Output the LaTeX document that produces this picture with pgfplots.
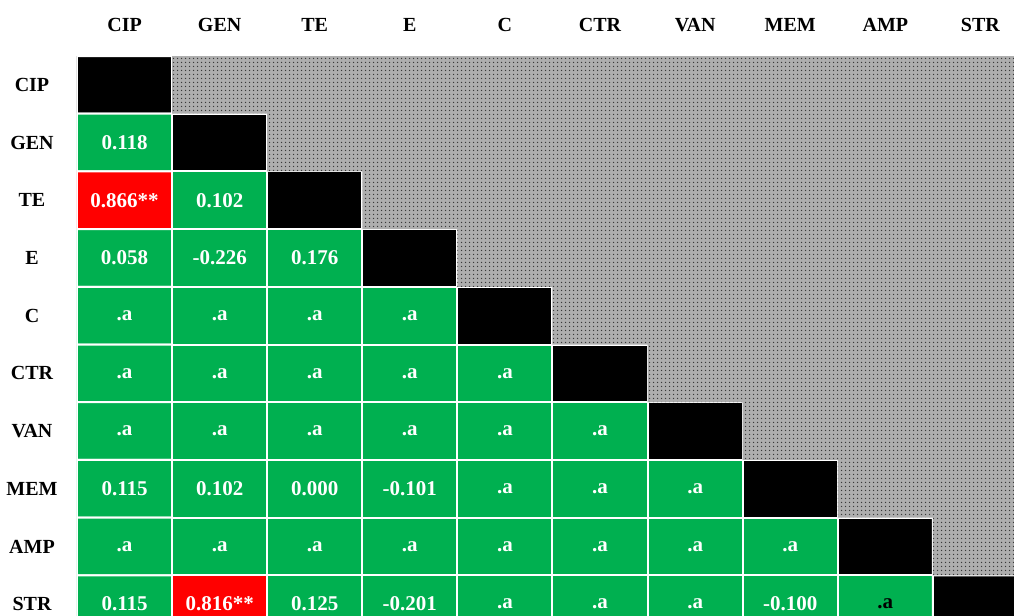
\documentclass[border=0pt]{standalone}
\usepackage{pgfplots}
\pgfplotsset{compat=1.18}
\usetikzlibrary{patterns.meta}
\usepackage{fontspec}
\setmainfont{Liberation Serif}
\definecolor{cgreen}{HTML}{00B050}
\definecolor{cred}{HTML}{FF0000}
\definecolor{bggray}{HTML}{AEAEAE}
\definecolor{dotgray}{HTML}{3A3A3A}
\tikzdeclarepattern{name=fdots, type=uncolored,
  bounding box={(0,0) and (2pt,2pt)}, tile size={(2pt,2pt)},
  code={\fill (1pt,1pt) circle (0.45pt);}}
\begin{document}
\begin{tikzpicture}
\useasboundingbox (0,0) rectangle (507pt,308pt);
\clip (0,0) rectangle (507pt,308pt);
\begin{axis}[
  at={(38.5pt,280pt)}, anchor=north west,
  width=475.5pt, height=288.5pt, scale only axis,
  xmin=-0.5, xmax=9.5, ymin=-0.5, ymax=9.5, y dir=reverse,
  xtick={0,...,9}, ytick={0,...,9},
  xticklabels={CIP,GEN,TE,E,C,CTR,VAN,MEM,AMP,STR},
  yticklabels={CIP,GEN,TE,E,C,CTR,VAN,MEM,AMP,STR},
  xticklabel pos=upper,
  axis line style={draw=none}, major tick length=0pt,
  ticklabel style={font=\fontsize{10}{12}\selectfont\bfseries},
  xticklabel style={anchor=center, yshift=15.5pt},
  yticklabel style={anchor=center, xshift=-22.5pt},
  colormap={cm}{color=(black) color=(cgreen) color=(cred)},
  colormap access=direct,
]
\addplot[matrix plot*, mesh/cols=10, point meta=explicit, draw=white, line width=1pt]
table[meta=c, row sep=\\] {
x y c\\
0 0 0\\ 1 0 0\\ 2 0 0\\ 3 0 0\\ 4 0 0\\ 5 0 0\\ 6 0 0\\ 7 0 0\\ 8 0 0\\ 9 0 0\\
0 1 1\\ 1 1 0\\ 2 1 0\\ 3 1 0\\ 4 1 0\\ 5 1 0\\ 6 1 0\\ 7 1 0\\ 8 1 0\\ 9 1 0\\
0 2 2\\ 1 2 1\\ 2 2 0\\ 3 2 0\\ 4 2 0\\ 5 2 0\\ 6 2 0\\ 7 2 0\\ 8 2 0\\ 9 2 0\\
0 3 1\\ 1 3 1\\ 2 3 1\\ 3 3 0\\ 4 3 0\\ 5 3 0\\ 6 3 0\\ 7 3 0\\ 8 3 0\\ 9 3 0\\
0 4 1\\ 1 4 1\\ 2 4 1\\ 3 4 1\\ 4 4 0\\ 5 4 0\\ 6 4 0\\ 7 4 0\\ 8 4 0\\ 9 4 0\\
0 5 1\\ 1 5 1\\ 2 5 1\\ 3 5 1\\ 4 5 1\\ 5 5 0\\ 6 5 0\\ 7 5 0\\ 8 5 0\\ 9 5 0\\
0 6 1\\ 1 6 1\\ 2 6 1\\ 3 6 1\\ 4 6 1\\ 5 6 1\\ 6 6 0\\ 7 6 0\\ 8 6 0\\ 9 6 0\\
0 7 1\\ 1 7 1\\ 2 7 1\\ 3 7 1\\ 4 7 1\\ 5 7 1\\ 6 7 1\\ 7 7 0\\ 8 7 0\\ 9 7 0\\
0 8 1\\ 1 8 1\\ 2 8 1\\ 3 8 1\\ 4 8 1\\ 5 8 1\\ 6 8 1\\ 7 8 1\\ 8 8 0\\ 9 8 0\\
0 9 1\\ 1 9 2\\ 2 9 1\\ 3 9 1\\ 4 9 1\\ 5 9 1\\ 6 9 1\\ 7 9 1\\ 8 9 1\\ 9 9 0\\
};
\addplot[draw=none, fill=bggray] coordinates {
(0.5,-0.5) (9.5,-0.5) (9.5,8.5) (8.5,8.5) (8.5,7.5) (7.5,7.5) (7.5,6.5)
(6.5,6.5) (6.5,5.5) (5.5,5.5) (5.5,4.5) (4.5,4.5) (4.5,3.5) (3.5,3.5)
(3.5,2.5) (2.5,2.5) (2.5,1.5) (1.5,1.5) (1.5,0.5) (0.5,0.5)} -- cycle;
\addplot[draw=none, pattern={fdots}, pattern color=dotgray] coordinates {
(0.5,-0.5) (9.5,-0.5) (9.5,8.5) (8.5,8.5) (8.5,7.5) (7.5,7.5) (7.5,6.5)
(6.5,6.5) (6.5,5.5) (5.5,5.5) (5.5,4.5) (4.5,4.5) (4.5,3.5) (3.5,3.5)
(3.5,2.5) (2.5,2.5) (2.5,1.5) (1.5,1.5) (1.5,0.5) (0.5,0.5)} -- cycle;
\addplot[only marks, mark=none, nodes near coords, point meta=explicit symbolic,
  nodes near coords style={anchor=center, text=white, font=\fontsize{10.5}{12}\selectfont\bfseries}]
coordinates {
(0,1) [0.118]
(0,2) [0.866**] (1,2) [0.102]
(0,3) [0.058] (1,3) [-0.226] (2,3) [0.176]
(0,4) [.a] (1,4) [.a] (2,4) [.a] (3,4) [.a]
(0,5) [.a] (1,5) [.a] (2,5) [.a] (3,5) [.a] (4,5) [.a]
(0,6) [.a] (1,6) [.a] (2,6) [.a] (3,6) [.a] (4,6) [.a] (5,6) [.a]
(0,7) [0.115] (1,7) [0.102] (2,7) [0.000] (3,7) [-0.101] (4,7) [.a] (5,7) [.a] (6,7) [.a]
(0,8) [.a] (1,8) [.a] (2,8) [.a] (3,8) [.a] (4,8) [.a] (5,8) [.a] (6,8) [.a] (7,8) [.a]
(0,9) [0.115] (1,9) [0.816**] (2,9) [0.125] (3,9) [-0.201] (4,9) [.a] (5,9) [.a] (6,9) [.a] (7,9) [-0.100] (8,9) [\textcolor{black}{.a}]
};
\end{axis}
\end{tikzpicture}
\end{document}
